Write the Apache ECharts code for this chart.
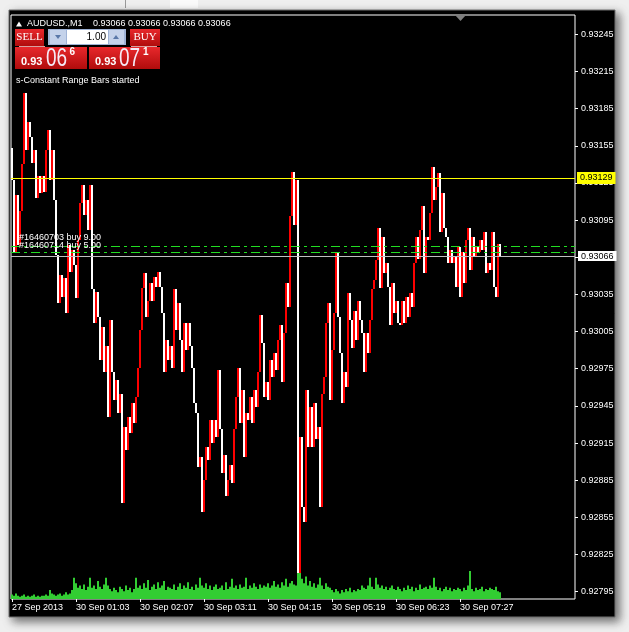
<!DOCTYPE html>
<html><head><meta charset="utf-8">
<script src="https://cdn.jsdelivr.net/npm/echarts@6/dist/echarts.min.js"></script>
<style>html,body{margin:0;padding:0;background:#efefef;}#c{width:629px;height:632px;}</style>
</head><body><div id="c"></div>
<script>
// ---------- data ----------
const symbolName = 'AUDUSD.,M1';
const headerQuote = [0.93066, 0.93066, 0.93066, 0.93066];
const firstOpen = 0.93153;
const closes = [
0.93127,0.93069,0.93115,0.93075,0.93102,0.93140,0.93198,0.93152,0.93174,0.93162,0.93141,0.93152,0.93113,0.93131,0.93117,0.93131,
0.93118,0.93152,0.93168,0.93127,0.93152,0.93111,0.93067,0.93028,0.93051,0.93033,0.93048,0.93020,0.93075,0.93053,0.93071,0.93059,
0.93032,0.93079,0.93109,0.93123,0.93099,0.93111,0.93087,0.93123,0.93039,0.93012,0.93037,0.93017,0.92982,0.93009,0.92972,0.92993,
0.92936,0.93014,0.92972,0.92950,0.92966,0.92939,0.92955,0.92867,0.92928,0.92909,0.92936,0.92923,0.92947,0.92931,0.92952,0.92976,
0.93006,0.93040,0.93052,0.93017,0.93030,0.93044,0.93030,0.93049,0.93041,0.93053,0.93041,0.93020,0.92972,0.92998,0.92982,0.92993,
0.92976,0.93039,0.93006,0.93028,0.92998,0.92972,0.93012,0.92990,0.93012,0.92993,0.92976,0.92947,0.92939,0.92896,0.92904,0.92859,
0.92885,0.92912,0.92901,0.92934,0.92915,0.92934,0.92920,0.92974,0.92926,0.92891,0.92905,0.92872,0.92885,0.92897,0.92883,0.92926,
0.92952,0.92976,0.92931,0.92958,0.92904,0.92939,0.92934,0.92952,0.92931,0.92958,0.92944,0.92972,0.93018,0.92996,0.92952,0.92964,
0.92950,0.92982,0.92968,0.92988,0.92974,0.92998,0.93010,0.92964,0.93004,0.93044,0.93025,0.93098,0.93134,0.93091,0.93127,0.92810,
0.92920,0.92863,0.92851,0.92958,0.92912,0.92944,0.92912,0.92947,0.92918,0.92928,0.92863,0.92955,0.92968,0.93012,0.93028,0.92950,
0.92990,0.93020,0.93069,0.93017,0.92988,0.92947,0.92972,0.92960,0.93036,0.93014,0.92992,0.93022,0.92998,0.93030,0.93014,0.93004,
0.92972,0.93004,0.92988,0.93014,0.93039,0.93047,0.93063,0.93089,0.93040,0.93081,0.93052,0.93060,0.93041,0.93010,0.93044,0.93020,
0.93030,0.93012,0.93010,0.93030,0.93012,0.93033,0.93017,0.93036,0.93025,0.93060,0.93081,0.93064,0.93087,0.93106,0.93052,0.93081,
0.93079,0.93101,0.93138,0.93111,0.93122,0.93133,0.93085,0.93117,0.93089,0.93081,0.93060,0.93071,0.93060,0.93065,0.93041,0.93073,
0.93033,0.93069,0.93044,0.93079,0.93089,0.93055,0.93081,0.93065,0.93073,0.93069,0.93079,0.93071,0.93085,0.93052,0.93060,0.93055,
0.93085,0.93041,0.93033,0.93076,0.93066
];
const volumes = [
4,3,5,3,2,3,4,2,3,2,3,4,2,3,2,3,
3,4,3,8,5,4,3,4,5,3,4,6,4,5,8,19,
14,10,12,9,13,8,11,19,10,12,9,16,11,9,13,19,
12,9,7,10,8,6,11,9,7,12,8,10,6,9,19,10,
12,9,14,10,17,8,11,13,9,15,10,12,16,8,11,10,
9,13,8,11,14,9,12,10,15,9,11,8,13,10,19,12,
10,14,9,12,8,11,13,9,10,12,8,15,9,11,18,10,
12,9,13,10,11,19,9,12,10,14,11,9,13,10,12,11,
14,10,12,16,11,13,10,15,12,18,11,14,16,13,12,32,
25,18,14,20,12,16,11,14,10,13,19,12,9,14,11,10,
8,6,9,7,5,8,6,9,7,10,6,8,7,9,8,12,
10,9,12,19,11,9,19,13,10,12,9,11,8,10,12,9,
8,11,9,7,10,8,12,9,11,7,10,8,13,9,10,11,
9,12,10,19,11,8,10,7,9,11,8,10,7,9,8,10,
9,7,10,8,12,25,9,7,10,8,9,11,7,9,8,10,
9,8,11,7,6
];
const timeLabels = ['27 Sep 2013','30 Sep 01:03','30 Sep 02:07','30 Sep 03:11','30 Sep 04:15','30 Sep 05:19','30 Sep 06:23','30 Sep 07:27'];
const priceTicks = [0.92795,0.92825,0.92855,0.92885,0.92915,0.92945,0.92975,0.93005,0.93035,0.93065,0.93095,0.93125,0.93155,0.93185,0.93215,0.93245];
const askLine = 0.93129;
const bidLine = 0.93066;
const orderLines = [0.93074, 0.93069];
const orderTexts = ['#16460703 buy 9.00', '#16460714 buy 5.00'];
const lotSize = '1.00';
const sellPrice = ['0.93', '06', '6'];
const buyPrice = ['0.93', '07', '1'];
const statusText = 's-Constant Range Bars started';

// ---------- settings ----------
const yMin = 0.927891, yMax = 0.932606;
const totalSlots = 282, labelStep = 32, volMax = 520;
const FONT = '"Liberation Sans", Arial, sans-serif';
const UP = '#ff0000', DOWN = '#ffffff';

const categories = [];
for (let i = 0; i < totalSlots; i++) {
  categories.push(i % labelStep === 0 && i / labelStep < timeLabels.length ? timeLabels[i / labelStep] : 'b' + i);
}
const showIdx = (idx) => idx % labelStep === 0 && idx / labelStep < timeLabels.length;
const barData = closes.map((c, i) => [i, i === 0 ? firstOpen : closes[i - 1], c]);

function renderBar(params, api) {
  const i = api.value(0), o = api.value(1), c = api.value(2);
  const top = api.coord([i, Math.max(o, c)]);
  const bot = api.coord([i, Math.min(o, c)]);
  const w = api.size([1, 0])[0];
  const x0 = Math.round(top[0] - w / 2);
  const y0 = Math.round(top[1]);
  const h = Math.max(1, Math.round(bot[1]) - y0);
  return {type: 'rect', shape: {x: x0, y: y0, width: Math.round(w), height: h}, style: {fill: c > o ? UP : DOWN}};
}

const chart = echarts.init(document.getElementById('c'), null, {renderer: 'canvas'});
const redGrad = new echarts.graphic.LinearGradient(0, 0, 0, 1, [{offset: 0, color: '#e8282c'}, {offset: 1, color: '#b00c0c'}]);

function txt(x, y, text, font, fill, align, z, sx) {
  return {type: 'text', x: x, y: y, z: z || 20, scaleX: sx || 1, style: {text: text, font: font, fill: fill || '#fff',
    textAlign: align || 'left', align: align || 'left', textVerticalAlign: 'middle', verticalAlign: 'middle'}};
}

const graphics = [
  {type: 'rect', z: -5, shape: {x: 170, y: 0, width: 28, height: 8}, style: {fill: '#fafafa'}},
  {type: 'rect', z: -5, shape: {x: 125, y: 0, width: 1, height: 8}, style: {fill: '#9a9a9a'}},
  {type: 'rect', z: -4, shape: {x: 9, y: 10, width: 606, height: 607},
    style: {fill: '#000', stroke: '#707070', lineWidth: 1, shadowBlur: 9, shadowColor: 'rgba(0,0,0,0.55)', shadowOffsetX: 4, shadowOffsetY: 4}},
  {type: 'polygon', z: 20, shape: {points: [[455, 15], [466, 15], [460.5, 21]]}, style: {fill: '#7f7f7f'}},
  {type: 'polygon', z: 20, shape: {points: [[16, 26.5], [22, 26.5], [19, 21.5]]}, style: {fill: '#fff'}},
  txt(27, 23.5, symbolName, '9px ' + FONT),
  txt(93, 23.5, headerQuote.map(v => v.toFixed(5)).join(' '), '9px ' + FONT),
  // SELL button
  {type: 'rect', z: 20, shape: {x: 15, y: 29, width: 29, height: 17}, style: {fill: redGrad}},
  txt(29.5, 37, 'SELL', '11px "Liberation Serif", serif', '#fff', 'center'),
  {type: 'rect', z: 21, shape: {x: 19, y: 46, width: 26, height: 1}, style: {fill: '#d8a0a0'}},
  // lot control
  {type: 'rect', z: 20, shape: {x: 48, y: 29, width: 78, height: 16}, style: {fill: '#9fb3d6'}},
  {type: 'rect', z: 21, shape: {x: 50, y: 30, width: 16, height: 14}, style: {fill: '#c4d2ea'}},
  {type: 'polygon', z: 22, shape: {points: [[55, 35], [61, 35], [58, 39]]}, style: {fill: '#5a78a8'}},
  {type: 'rect', z: 21, shape: {x: 67, y: 30, width: 41, height: 14}, style: {fill: '#ffffff'}},
  txt(106, 37, lotSize, '10px ' + FONT, '#000', 'right', 22),
  {type: 'rect', z: 21, shape: {x: 109, y: 30, width: 15, height: 14}, style: {fill: '#c4d2ea'}},
  {type: 'polygon', z: 22, shape: {points: [[113, 39], [119, 39], [116, 35]]}, style: {fill: '#5a78a8'}},
  // BUY button
  {type: 'rect', z: 20, shape: {x: 130, y: 29, width: 30, height: 17}, style: {fill: redGrad}},
  txt(145, 37, 'BUY', '11px "Liberation Serif", serif', '#fff', 'center'),
  {type: 'rect', z: 21, shape: {x: 131, y: 46, width: 26, height: 1}, style: {fill: '#d8a0a0'}},
  // price boxes
  {type: 'rect', z: 20, shape: {x: 15, y: 47, width: 72, height: 22}, style: {fill: redGrad}},
  {type: 'rect', z: 20, shape: {x: 89, y: 47, width: 71, height: 22}, style: {fill: redGrad}},
  txt(21, 62, sellPrice[0], 'bold 11px ' + FONT),
  txt(46, 59.5, sellPrice[1], '25px ' + FONT, '#f6eaf6', 'left', 20, 0.76),
  txt(69.5, 52, sellPrice[2], 'bold 10px ' + FONT),
  txt(95, 62, buyPrice[0], 'bold 11px ' + FONT),
  txt(119, 59.5, buyPrice[1], '25px ' + FONT, '#f6eaf6', 'left', 20, 0.76),
  txt(143, 52, buyPrice[2], 'bold 10px ' + FONT),
  txt(16, 80.5, statusText, '9px ' + FONT)
];

const markLineSpec = {symbol: ['none', 'none'], silent: true, animation: false, precision: 5,
  data: [
    {yAxis: askLine, lineStyle: {color: '#ffff00', type: 'solid', width: 1},
      label: {show: true, position: 'end', formatter: askLine.toFixed(5), backgroundColor: '#ffff00', color: '#000', fontSize: 9, fontFamily: FONT, padding: [2, 3, 1, 3], distance: 2}},
    {yAxis: bidLine, lineStyle: {color: '#c0c0c0', type: 'solid', width: 1},
      label: {show: true, position: 'end', formatter: bidLine.toFixed(5), backgroundColor: '#ffffff', color: '#000', fontSize: 9, fontFamily: FONT, padding: [1, 3, 0, 3], distance: 3}},
    {yAxis: orderLines[0], lineStyle: {color: '#22dd22', type: [9, 4, 3, 4], width: 1},
      label: {show: true, position: 'insideStartTop', formatter: orderTexts[0], color: '#fff', fontSize: 9, fontFamily: FONT, distance: [8, 4]}},
    {yAxis: orderLines[1], lineStyle: {color: '#22dd22', type: [9, 4, 3, 4], width: 1},
      label: {show: true, position: 'insideStartTop', formatter: orderTexts[1], color: '#fff', fontSize: 9, fontFamily: FONT, distance: [8, 2]}}
  ]};

const option = {
  animation: false,
  backgroundColor: '#efefef',
  graphic: {elements: graphics},
  grid: {left: 11, top: 15, right: 54, bottom: 33, show: true, borderColor: '#ffffff', borderWidth: 1, backgroundColor: 'transparent'},
  xAxis: {
    type: 'category', data: categories, boundaryGap: true,
    axisLine: {show: false},
    axisTick: {show: true, alignWithLabel: true, interval: showIdx, length: 3, lineStyle: {color: '#fff'}},
    axisLabel: {interval: showIdx, align: 'left', color: '#fff', fontSize: 9, fontFamily: FONT, margin: 4},
    splitLine: {show: false}
  },
  yAxis: [
    {type: 'value', position: 'right', min: yMin, max: yMax, splitLine: {show: false}, axisLine: {show: false},
      axisTick: {show: true, customValues: priceTicks, length: 3, lineStyle: {color: '#fff'}},
      axisLabel: {customValues: priceTicks, color: '#fff', fontSize: 9, fontFamily: FONT, margin: 6, formatter: v => v.toFixed(5)}},
    {type: 'value', min: 0, max: volMax, show: false, splitLine: {show: false}}
  ],
  series: [
    {type: 'bar', name: 'volume', yAxisIndex: 1, data: volumes, barWidth: 2, z: 2, itemStyle: {color: '#32cd32'}, silent: true},
    {type: 'custom', name: 'price', data: barData, renderItem: renderBar, encode: {x: 0, y: [1, 2]}, z: 3, silent: true, clip: true},
    {type: 'line', name: 'levels', data: [], z: 4, silent: true, showSymbol: false, markLine: markLineSpec}
  ]
};
chart.setOption(option);
</script>
</body></html>
